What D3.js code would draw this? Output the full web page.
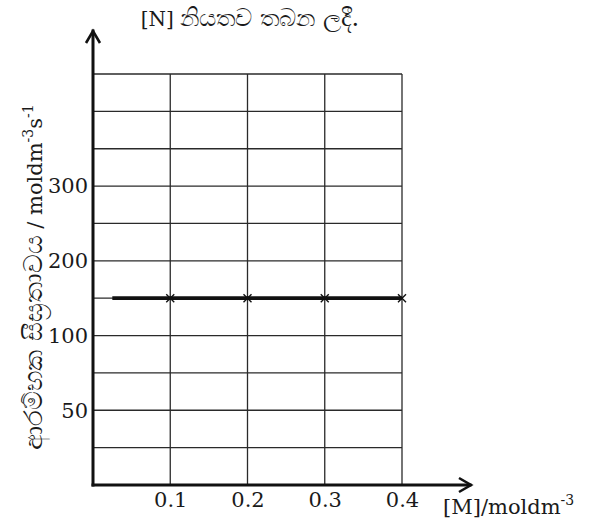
<!DOCTYPE html>
<html>
<head>
<meta charset="utf-8">
<script src="https://cdn.jsdelivr.net/npm/d3@7"></script>
<style>
  html, body { margin: 0; padding: 0; background: #fff; }
  svg { display: block; }
  .lbl { font-family: "DejaVu Serif", "Liberation Serif", serif; fill: #1a1a1a; }
</style>
</head>
<body>
<svg id="chart" width="592" height="524"></svg>
<script>
// Concentration of M (mol dm^-3) and the initial rate measured at each
const concM = [0.025, 0.1, 0.2, 0.3, 0.4];
const rates = [150, 150, 150, 150, 150];
// Points that carry a cross marker
const markedM = [0.1, 0.2, 0.3, 0.4];

const xTicks = [0.1, 0.2, 0.3, 0.4];
const yTicks = [50, 100, 200, 300];
// Rate value at each labelled grid row (rows counted from the x axis)
const yTickRows = [2, 4, 6, 8];
const gridRows = 11;

const titleLead = "[N] ";
const titleText = "නියතව තබන ලදී.";
const yLabelText = "ආරම්භක සීඝ්‍රතාවය";
const yLabelUnit = " / moldm";
const xLabelText = "[M]/moldm";

(function () {
  const svg = d3.select("#chart");

  const plotL = 93, plotR = 402, plotB = 485, plotT = 74;

  const x = d3.scaleLinear().domain([0, 0.4]).range([plotL, plotR]);
  const row = d3.scaleLinear().domain([0, gridRows]).range([plotB, plotT]);
  // The value axis is labelled unevenly, so map each labelled value to its row
  const y = d3.scaleLinear()
    .domain([0].concat(yTicks))
    .range([row(0)].concat(yTickRows.map(r => row(r))));

  // grid
  const grid = svg.append("g").attr("stroke", "#2a2a2a").attr("stroke-width", 1.3);
  grid.selectAll("line.h")
    .data(d3.range(1, gridRows + 1))
    .join("line")
    .attr("class", "h")
    .attr("x1", plotL).attr("x2", plotR)
    .attr("y1", d => row(d)).attr("y2", d => row(d));
  grid.selectAll("line.v")
    .data(xTicks)
    .join("line")
    .attr("class", "v")
    .attr("x1", d => x(d)).attr("x2", d => x(d))
    .attr("y1", row(0)).attr("y2", row(gridRows));

  // axes with tick labels
  const yAxis = svg.append("g")
    .attr("transform", `translate(${plotL},0)`)
    .call(d3.axisLeft(y).tickValues(yTicks).tickSize(0).tickPadding(5));
  const xAxis = svg.append("g")
    .attr("transform", `translate(0,${plotB})`)
    .call(d3.axisBottom(x).tickValues(xTicks).tickSize(0).tickPadding(7).tickFormat(d3.format(".1f")));
  [yAxis, xAxis].forEach(a => {
    a.select(".domain").remove();
    a.selectAll("text")
      .attr("class", "lbl")
      .attr("font-size", 21)
      .attr("fill", "#1a1a1a");
  });

  // axis lines with open arrow heads
  const axisG = svg.append("g")
    .attr("stroke", "#111").attr("stroke-width", 3).attr("fill", "none")
    .attr("stroke-linecap", "square");
  axisG.append("path").attr("d", `M${plotL},${plotB}V31`);
  axisG.append("path").attr("d", `M${plotL - 7},43L${plotL},31L${plotL + 7},43`).attr("stroke-linecap", "butt").attr("stroke-width", 2.6);
  axisG.append("path").attr("d", `M${plotL},${plotB}H470`);
  axisG.append("path").attr("d", `M459,${plotB - 7}L471,${plotB}L459,${plotB + 7}`).attr("stroke-linecap", "butt").attr("stroke-width", 2.6);

  // rate line
  const pts = concM.map((c, i) => [c, rates[i]]);
  svg.append("path")
    .datum(pts)
    .attr("fill", "none")
    .attr("stroke", "#111")
    .attr("stroke-width", 3.8)
    .attr("d", d3.line().x(d => x(d[0])).y(d => y(d[1])));

  // cross markers
  const mk = svg.append("g").attr("stroke", "#111").attr("stroke-width", 1.4);
  markedM.forEach(c => {
    const i = concM.indexOf(c);
    const cx = x(c), cy = y(rates[i]), s = 4;
    mk.append("path").attr("d", `M${cx - s},${cy - s}L${cx + s},${cy + s}M${cx - s},${cy + s}L${cx + s},${cy - s}`);
  });

  // title
  const tt = svg.append("text")
    .attr("class", "lbl")
    .attr("x", 250).attr("y", 26)
    .attr("text-anchor", "middle")
    .attr("font-size", 20);
  tt.append("tspan").text(titleLead);
  tt.append("tspan").attr("font-size", 24).text(titleText);

  // y label (rotated)
  const yl = svg.append("text")
    .attr("class", "lbl")
    .attr("transform", "translate(42,277) rotate(-90)")
    .attr("text-anchor", "middle")
    .attr("font-size", 21);
  yl.append("tspan").attr("font-size", 26).text(yLabelText);
  yl.append("tspan").text(yLabelUnit);
  yl.append("tspan").attr("dy", -9).attr("font-size", 14).text("-3");
  yl.append("tspan").attr("dy", 9).text("s");
  yl.append("tspan").attr("dy", -9).attr("font-size", 14).text("-1");

  // x label
  const xl = svg.append("text")
    .attr("class", "lbl")
    .attr("x", 443).attr("y", 514)
    .attr("font-size", 21);
  xl.append("tspan").text(xLabelText);
  xl.append("tspan").attr("dy", -9).attr("font-size", 14).text("-3");
})();
</script>
</body>
</html>
